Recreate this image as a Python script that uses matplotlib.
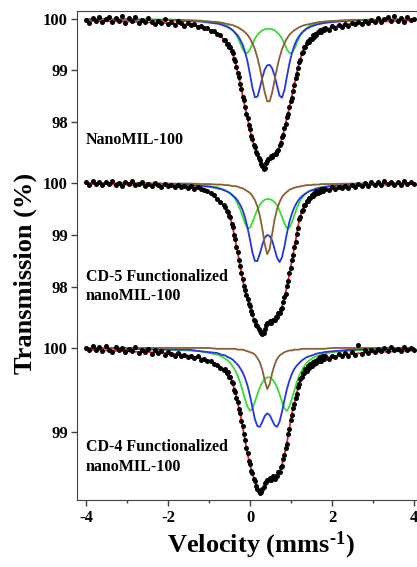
import numpy as np
import matplotlib
matplotlib.use("Agg")
import matplotlib.pyplot as plt

plt.rcParams['font.family'] = 'Liberation Serif'
plt.rcParams['font.weight'] = 'bold'
plt.rcParams['mathtext.fontset'] = 'custom'
plt.rcParams['mathtext.rm'] = 'Liberation Serif:bold'
plt.rcParams['mathtext.default'] = 'rm'

# velocity channels (mm/s)
v_data = np.concatenate([np.linspace(-4.0, -0.64, 43),
                         np.linspace(-0.60, 1.80, 81),
                         np.linspace(1.84, 4.00, 28)])
v_fit = np.concatenate([[-4.0, -3.0, -2.0, -1.5, -1.2, -1.0, -0.8, -0.7],
                        np.linspace(-0.60, 1.80, 41),
                        [2.0, 2.5, 3.0, 3.5, 4.0]])

labels = ["NanoMIL-100", "CD-5 Functionalized\nnanoMIL-100", "CD-4 Functionalized\nnanoMIL-100"]

# measured spectra (transmission %)
data_nano = [99.98, 99.93, 100.01, 99.96, 100.03, 99.94, 99.99, 100.04, 99.95, 100.02,
             99.97, 100.05, 99.93, 100.01, 99.96, 100.03, 99.92, 99.98, 99.94, 100.01,
             99.95, 99.90, 99.97, 99.93, 99.99, 99.91, 99.95, 99.89, 99.96, 99.92,
             99.87, 99.93, 99.88, 99.90, 99.84, 99.87, 99.82, 99.83, 99.76, 99.77,
             99.70, 99.68, 99.60,
             99.60, 99.52, 99.52, 99.45, 99.46, 99.37, 99.33, 99.22, 99.18, 99.06,
             98.95, 98.88, 98.74, 98.64, 98.49, 98.42, 98.29, 98.16, 98.08, 97.94,
             97.86, 97.72, 97.66, 97.56, 97.51, 97.41, 97.37, 97.29, 97.26, 97.19,
             97.14, 97.09, 97.11, 97.20, 97.25, 97.28, 97.29, 97.33, 97.31, 97.35,
             97.38, 97.37, 97.43, 97.46, 97.55, 97.59, 97.70, 97.75, 97.88, 97.96,
             98.09, 98.15, 98.29, 98.40, 98.47, 98.61, 98.71, 98.85, 98.93, 99.05,
             99.16, 99.20, 99.33, 99.36, 99.45, 99.45, 99.53, 99.58, 99.56, 99.62,
             99.62, 99.68, 99.65, 99.71, 99.68, 99.74, 99.74, 99.79, 99.75, 99.80,
             99.78,
             99.82, 99.79, 99.86, 99.83, 99.89, 99.85, 99.91, 99.87, 99.93, 99.90,
             99.95, 99.91, 99.97, 99.93, 99.98, 99.94, 100.01, 99.95, 99.99, 100.03,
             99.96, 100.05, 99.97, 100.02, 99.95, 100.04, 99.98, 100.00]

data_cd5 = [100.01, 99.97, 100.03, 99.99, 100.02, 99.96, 100.01, 99.98, 100.04, 99.97,
            100.00, 99.95, 100.02, 99.98, 100.03, 99.96, 99.99, 100.02, 99.95, 99.99,
            99.94, 100.00, 99.96, 99.93, 99.99, 99.95, 99.97, 99.92, 99.96, 99.93,
            99.95, 99.90, 99.94, 99.89, 99.92, 99.88, 99.86, 99.84, 99.80, 99.76,
            99.70, 99.64, 99.57,
            99.54, 99.46, 99.45, 99.37, 99.35, 99.22, 99.15, 99.00, 98.92, 98.77,
            98.67, 98.51, 98.41, 98.26, 98.15, 98.02, 97.95, 97.84, 97.77, 97.67,
            97.63, 97.53, 97.47, 97.37, 97.34, 97.27, 97.25, 97.19, 97.16, 97.11,
            97.10, 97.12, 97.20, 97.27, 97.31, 97.31, 97.34, 97.31, 97.35, 97.36,
            97.36, 97.42, 97.42, 97.49, 97.50, 97.58, 97.60, 97.71, 97.80, 97.87,
            98.01, 98.11, 98.27, 98.36, 98.51, 98.62, 98.77, 98.86, 99.02, 99.13,
            99.30, 99.35, 99.47, 99.49, 99.58, 99.58, 99.66, 99.66, 99.72, 99.71,
            99.77, 99.75, 99.81, 99.78, 99.84, 99.81, 99.85, 99.82, 99.88, 99.85,
            99.88,
            99.89, 99.86, 99.92, 99.88, 99.93, 99.90, 99.95, 99.91, 99.97, 99.93,
            99.98, 99.94, 100.00, 99.95, 100.02, 99.96, 100.01, 99.97, 100.03, 99.98,
            100.02, 99.96, 100.01, 99.97, 100.03, 99.99, 100.02, 99.98]

data_cd4 = [100.00, 99.97, 100.02, 99.98, 100.01, 99.96, 100.02, 99.98, 99.95, 100.01,
            99.97, 100.00, 99.95, 99.99, 99.96, 100.01, 99.94, 99.98, 99.95, 99.99,
            99.93, 99.97, 99.94, 99.96, 99.92, 99.95, 99.93, 99.91, 99.94, 99.90,
            99.92, 99.89, 99.91, 99.88, 99.90, 99.86, 99.87, 99.84, 99.85, 99.81,
            99.80, 99.76, 99.74,
            99.75, 99.70, 99.71, 99.66, 99.66, 99.60, 99.58, 99.50, 99.48, 99.40,
            99.36, 99.27, 99.23, 99.13, 99.07, 98.97, 98.91, 98.81, 98.75, 98.66,
            98.62, 98.54, 98.51, 98.44, 98.42, 98.36, 98.32, 98.30, 98.27, 98.28,
            98.32, 98.35, 98.39, 98.41, 98.43, 98.43, 98.45, 98.43, 98.45, 98.47,
            98.44, 98.48, 98.47, 98.52, 98.52, 98.58, 98.60, 98.68, 98.72, 98.81,
            98.86, 98.97, 99.03, 99.14, 99.20, 99.29, 99.33, 99.41, 99.45, 99.53,
            99.57, 99.63, 99.65, 99.70, 99.70, 99.75, 99.72, 99.78, 99.76, 99.81,
            99.78, 99.83, 99.81, 99.85, 99.82, 99.87, 99.85, 99.89, 99.85, 99.90,
            99.87,
            99.90, 99.87, 99.91, 99.89, 99.93, 99.90, 99.94, 99.91, 99.95, 99.92,
            100.03, 99.93, 99.97, 99.94, 99.98, 99.95, 99.99, 99.96, 100.00, 99.96,
            100.01, 99.97, 99.99, 99.96, 100.01, 99.97, 100.00, 99.98]

# total fits (red)
fit_nano = [99.96, 99.95, 99.92, 99.89, 99.85, 99.80, 99.71, 99.65,
            99.57, 99.51, 99.44, 99.32, 99.16, 98.97, 98.75, 98.51, 98.29, 98.07,
            97.84, 97.65, 97.49, 97.36, 97.25, 97.16, 97.13, 97.20, 97.28, 97.32,
            97.35, 97.41, 97.53, 97.68, 97.87, 98.07, 98.28, 98.49, 98.72, 98.95,
            99.14, 99.31, 99.43, 99.52, 99.58, 99.63, 99.67, 99.71, 99.74, 99.77,
            99.79,
            99.84, 99.91, 99.94, 99.96, 99.97]
fit_cd5 = [99.98, 99.97, 99.95, 99.94, 99.90, 99.82, 99.69, 99.61,
           99.52, 99.44, 99.33, 99.14, 98.90, 98.66, 98.39, 98.14, 97.93, 97.76,
           97.62, 97.45, 97.33, 97.24, 97.17, 97.12, 97.18, 97.27, 97.31, 97.33,
           97.37, 97.43, 97.51, 97.62, 97.78, 98.00, 98.25, 98.50, 98.75, 99.01,
           99.28, 99.45, 99.56, 99.64, 99.70, 99.75, 99.79, 99.81, 99.83, 99.85,
           99.86,
           99.89, 99.94, 99.96, 99.97, 99.98]
fit_cd4 = [99.98, 99.96, 99.94, 99.91, 99.88, 99.85, 99.80, 99.77,
           99.73, 99.70, 99.65, 99.57, 99.47, 99.35, 99.22, 99.06, 98.90, 98.74,
           98.61, 98.50, 98.41, 98.33, 98.29, 98.31, 98.35, 98.40, 98.43, 98.44,
           98.45, 98.48, 98.53, 98.61, 98.73, 98.87, 99.04, 99.21, 99.34, 99.46,
           99.58, 99.66, 99.71, 99.74, 99.77, 99.80, 99.82, 99.84, 99.86, 99.87,
           99.88,
           99.90, 99.93, 99.95, 99.96, 99.97]

# sub-spectra (green, blue doublets, brown singlet)
green_nano = [100.00, 99.99, 99.99, 99.98, 99.97, 99.95, 99.93, 99.91,
              99.88, 99.86, 99.82, 99.78, 99.72, 99.64, 99.53, 99.42, 99.34, 99.34,
              99.41, 99.52, 99.62, 99.69, 99.74, 99.78, 99.80, 99.81, 99.81, 99.80,
              99.78, 99.74, 99.69, 99.62, 99.52, 99.41, 99.34, 99.34, 99.42, 99.53,
              99.64, 99.72, 99.78, 99.82, 99.86, 99.88, 99.90, 99.92, 99.93, 99.94,
              99.94,
              99.96, 99.98, 99.99, 99.99, 99.99]
blue_nano = [99.99, 99.99, 99.98, 99.96, 99.95, 99.93, 99.91, 99.89,
             99.86, 99.84, 99.81, 99.78, 99.73, 99.68, 99.60, 99.50, 99.36, 99.17,
             98.92, 98.66, 98.48, 98.49, 98.66, 98.86, 99.02, 99.10, 99.11, 99.04,
             98.90, 98.70, 98.51, 98.47, 98.62, 98.88, 99.13, 99.33, 99.48, 99.59,
             99.67, 99.73, 99.77, 99.81, 99.83, 99.86, 99.87, 99.89, 99.90, 99.91,
             99.92,
             99.94, 99.97, 99.98, 99.99, 99.99]
brown_nano = [99.99, 99.99, 99.98, 99.97, 99.96, 99.95, 99.94, 99.93,
              99.91, 99.90, 99.89, 99.88, 99.86, 99.84, 99.81, 99.78, 99.74, 99.69,
              99.62, 99.53, 99.41, 99.25, 99.05, 98.81, 98.57, 98.40, 98.40, 98.57,
              98.81, 99.05, 99.25, 99.41, 99.53, 99.62, 99.69, 99.74, 99.78, 99.81,
              99.84, 99.86, 99.88, 99.89, 99.90, 99.91, 99.92, 99.93, 99.94, 99.94,
              99.95,
              99.96, 99.98, 99.98, 99.99, 99.99]

green_cd5 = [100.00, 99.99, 99.98, 99.97, 99.96, 99.94, 99.92, 99.89,
             99.86, 99.83, 99.80, 99.75, 99.69, 99.60, 99.49, 99.36, 99.22, 99.13,
             99.14, 99.24, 99.37, 99.49, 99.58, 99.64, 99.68, 99.69, 99.69, 99.67,
             99.63, 99.57, 99.47, 99.35, 99.22, 99.13, 99.14, 99.24, 99.38, 99.51,
             99.62, 99.70, 99.76, 99.81, 99.84, 99.86, 99.88, 99.90, 99.91, 99.92,
             99.93,
             99.95, 99.98, 99.99, 99.99, 99.99]
blue_cd5 = [99.99, 99.99, 99.98, 99.96, 99.94, 99.93, 99.90, 99.88,
            99.85, 99.83, 99.80, 99.76, 99.72, 99.66, 99.58, 99.48, 99.33, 99.14,
            98.91, 98.66, 98.50, 98.50, 98.64, 98.81, 98.95, 99.00, 98.98, 98.89,
            98.73, 98.56, 98.48, 98.57, 98.78, 99.03, 99.25, 99.41, 99.53, 99.62,
            99.69, 99.74, 99.78, 99.81, 99.84, 99.86, 99.87, 99.89, 99.90, 99.91,
            99.92,
            99.94, 99.97, 99.98, 99.99, 99.99]
brown_cd5 = [100.00, 100.00, 99.99, 99.99, 99.98, 99.98, 99.97, 99.97,
             99.96, 99.96, 99.95, 99.94, 99.94, 99.93, 99.91, 99.90, 99.87, 99.84,
             99.81, 99.75, 99.67, 99.55, 99.37, 99.12, 98.82, 98.63, 98.73, 99.02,
             99.30, 99.50, 99.63, 99.73, 99.79, 99.83, 99.87, 99.89, 99.91, 99.92,
             99.93, 99.94, 99.95, 99.96, 99.96, 99.96, 99.97, 99.97, 99.97, 99.98,
             99.98,
             99.98, 99.99, 99.99, 100.00, 100.00]

green_cd4 = [100.00, 99.99, 99.98, 99.97, 99.96, 99.94, 99.92, 99.90,
             99.87, 99.85, 99.82, 99.78, 99.73, 99.67, 99.59, 99.49, 99.39, 99.30,
             99.25, 99.28, 99.36, 99.45, 99.53, 99.59, 99.63, 99.65, 99.65, 99.63,
             99.59, 99.53, 99.45, 99.36, 99.28, 99.25, 99.30, 99.39, 99.49, 99.59,
             99.67, 99.73, 99.78, 99.82, 99.85, 99.87, 99.89, 99.90, 99.91, 99.92,
             99.93,
             99.95, 99.97, 99.98, 99.99, 99.99]
blue_cd4 = [100.00, 99.99, 99.98, 99.98, 99.96, 99.95, 99.94, 99.92,
            99.91, 99.89, 99.88, 99.86, 99.83, 99.80, 99.76, 99.71, 99.64, 99.55,
            99.43, 99.29, 99.15, 99.07, 99.06, 99.12, 99.19, 99.22, 99.20, 99.14,
            99.08, 99.06, 99.12, 99.24, 99.38, 99.51, 99.61, 99.69, 99.75, 99.79,
            99.82, 99.85, 99.87, 99.89, 99.90, 99.91, 99.92, 99.93, 99.94, 99.94,
            99.95,
            99.96, 99.98, 99.99, 99.99, 99.99]
brown_cd4 = [100.00, 100.00, 100.00, 100.00, 100.00, 100.00, 99.99, 99.99,
             99.99, 99.99, 99.99, 99.99, 99.99, 99.98, 99.98, 99.98, 99.97, 99.96,
             99.95, 99.94, 99.92, 99.88, 99.83, 99.74, 99.61, 99.51, 99.57, 99.70,
             99.80, 99.87, 99.91, 99.93, 99.95, 99.96, 99.97, 99.97, 99.98, 99.98,
             99.98, 99.99, 99.99, 99.99, 99.99, 99.99, 99.99, 99.99, 99.99, 99.99,
             99.99,
             100.00, 100.00, 100.00, 100.00, 100.00]

datas = [data_nano, data_cd5, data_cd4]
fits = [fit_nano, fit_cd5, fit_cd4]
greens = [green_nano, green_cd5, green_cd4]
blues = [blue_nano, blue_cd5, blue_cd4]
browns = [brown_nano, brown_cd5, brown_cd4]

ylims = [(96.95, 100.155), (96.96, 100.135), (98.19, 100.083)]
yticks = [[98, 99, 100], [98, 99, 100], [99, 100]]
boxes = [(0.6896, 0.2910), (0.3986, 0.2910), (0.1182, 0.2804)]
text_y = [97.65, 98.01, 98.70]
frame = "#404040"

fig = plt.figure(figsize=(4.17, 5.67), dpi=100)
for i in range(3):
    ax = fig.add_axes([0.1847, boxes[i][0], 0.8297, boxes[i][1]])
    ax.plot(v_fit, greens[i], color="#33dd33", lw=1.3, zorder=2)
    ax.plot(v_fit, blues[i], color="#2535e0", lw=1.3, zorder=2)
    ax.plot(v_fit, browns[i], color="#8b5e34", lw=1.3, zorder=2)
    ax.plot(v_data, datas[i], 'o', color='black', ms=3.6, mec='none', zorder=4)
    ax.plot(v_fit, fits[i], color='#e8202a', lw=1.3, zorder=3)
    ax.set_xlim(-4.22, 4.22)
    ax.set_ylim(*ylims[i])
    ax.set_yticks(yticks[i])
    ax.set_yticklabels([str(t) for t in yticks[i]])
    ax.text(-4.0, text_y[i], labels[i], fontsize=11.5, ha='left', va='center', linespacing=1.3)
    for s in ["right", "top", "bottom"]:
        ax.spines[s].set_visible(False)
    ax.spines["left"].set_color(frame)
    ax.tick_params(axis='y', direction='out', length=4.5, width=1, labelsize=12, pad=2, color=frame)
    if i == 0:
        ax.spines["top"].set_visible(True)
        ax.spines["top"].set_color(frame)
    if i == 2:
        ax.spines["bottom"].set_visible(True)
        ax.spines["bottom"].set_color(frame)
        ax.set_xticks([-4, -2, 0, 2, 4])
        ax.set_xticklabels(["-4", "-2", "0", "2", "4"])
        ax.set_xticks([-3, -1, 1, 3], minor=True)
        ax.tick_params(axis='x', which='major', direction='out', length=4.5, width=1,
                       labelsize=12, pad=3, color=frame)
        ax.tick_params(axis='x', which='minor', direction='out', length=2.5, width=1, color=frame)
    else:
        ax.tick_params(axis='x', which='both', bottom=False, labelbottom=False)
    ax.patch.set_visible(False)

fig.text(0.06, 0.518, 'Transmission (%)', rotation=90, fontsize=19, ha='center', va='center')
fig.text(0.626, 0.039, r'Velocity (mms$^{\text{-}1}$)', fontsize=19, ha='center', va='center')

fig.savefig("out.png", dpi=100)
